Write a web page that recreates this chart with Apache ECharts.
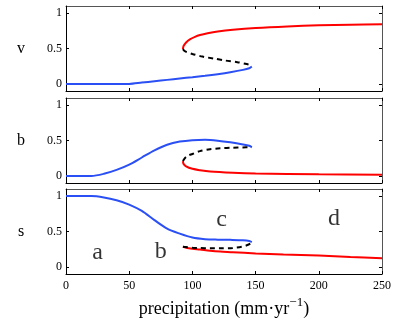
<!DOCTYPE html>
<html>
<head>
<meta charset="utf-8">
<script src="https://cdn.jsdelivr.net/npm/echarts@6/dist/echarts.min.js"></script>
<style>
html,body{margin:0;padding:0;background:#fff;}
#chart{width:415px;height:327px;}
</style>
</head>
<body>
<div id="chart"></div>
<script>
// ---------- data (precipitation P in mm/yr) ----------
const xTicks = [0, 50, 100, 150, 200, 250];
const yTicks = [0, 0.5, 1];
const panelNames = ['v', 'b', 's'];

// v panel
const vLowP   = [0, 10, 20, 30, 40, 50, 60, 70, 80, 90, 100, 110, 120, 130, 140, 145, 147];
const vLow    = [0, 0, 0, 0, 0, 0, 0.019, 0.038, 0.057, 0.076, 0.095, 0.115, 0.138, 0.165, 0.198, 0.222, 0.245];
const vUnsP   = [92.5, 94, 100, 108, 117, 126, 135.5, 143, 146, 147];
const vUns    = [0.49, 0.462, 0.423, 0.386, 0.358, 0.33, 0.307, 0.28, 0.262, 0.245];
const vHighP  = [92.5, 93, 95, 98, 102, 106, 112, 120, 132, 150, 175, 200, 225, 250];
const vHigh   = [0.49, 0.535, 0.585, 0.63, 0.665, 0.69, 0.715, 0.74, 0.765, 0.79, 0.812, 0.827, 0.836, 0.843];

// b panel
const bLowP   = [0, 10, 20, 30, 40, 50, 60, 70, 80, 90, 100, 110, 120, 130, 140, 145, 147];
const bLow    = [0, 0, 0, 0.03, 0.085, 0.16, 0.26, 0.36, 0.44, 0.485, 0.505, 0.51, 0.498, 0.475, 0.445, 0.425, 0.405];
const bUnsP   = [92.5, 95, 100, 106, 114, 122, 132, 140, 145, 147];
const bUns    = [0.21, 0.27, 0.31, 0.35, 0.377, 0.39, 0.398, 0.402, 0.404, 0.405];
const bHighP  = [92.5, 93, 95, 100, 106, 114, 132, 150, 200, 250];
const bHigh   = [0.21, 0.17, 0.135, 0.1, 0.08, 0.062, 0.045, 0.035, 0.024, 0.018];

// s panel
const sLowP   = [0, 10, 20, 30, 40, 50, 60, 70, 80, 90, 100, 110, 120, 130, 140, 145, 147];
const sLow    = [1, 1, 1, 0.98, 0.94, 0.88, 0.79, 0.66, 0.54, 0.47, 0.415, 0.392, 0.385, 0.382, 0.376, 0.365, 0.35];
const sUnsP   = [92.5, 95, 100, 106, 114, 122, 132, 139, 143, 146, 147];
const sUns    = [0.285, 0.28, 0.272, 0.266, 0.262, 0.262, 0.268, 0.285, 0.305, 0.33, 0.35];
const sHighP  = [92.5, 95, 100, 106, 114, 122, 132, 150, 172, 200, 225, 250];
const sHigh   = [0.285, 0.272, 0.258, 0.246, 0.228, 0.216, 0.208, 0.19, 0.175, 0.16, 0.14, 0.122];

// region labels (bottom panel)
const regionLabels = ['a', 'b', 'c', 'd'];
const regionP = [25, 75, 123, 212];
const regionS = [0.2, 0.21, 0.66, 0.68];

// ---------- chart ----------
const FONT = '"Liberation Serif", "Times New Roman", serif';
const BLUE = '#2a4ff5', RED = '#ff0000', BLACK = '#000000';
const pair = (xs, ys) => xs.map((x, i) => [x, ys[i]]);

const gridTops = [6, 98, 189];
const grids = gridTops.map(t => ({ left: 66, right: 33, top: t, height: 85 }));

const xAxes = [], yAxes = [];
grids.forEach((g, i) => {
  xAxes.push({
    type: 'value', gridIndex: i, position: 'bottom', min: 0, max: 250, interval: 50,
    axisLine: { show: true, onZero: false, lineStyle: { color: '#000', width: 1 } },
    axisTick: { show: true, inside: true, length: 3, lineStyle: { color: '#000' } },
    axisLabel: { show: i === 2, margin: 6, color: '#000', fontFamily: FONT, fontSize: 12 },
    splitLine: { show: false },
    name: i === 2 ? '{t|precipitation (mm·yr}{s|−1}{t|)}' : '',
    nameLocation: 'middle', nameGap: 22,
    nameTextStyle: {
      rich: {
        t: { fontFamily: FONT, fontSize: 18, color: '#000', verticalAlign: 'bottom', lineHeight: 22 },
        s: { fontFamily: FONT, fontSize: 13, color: '#000', verticalAlign: 'top', lineHeight: 22, padding: [0, 0, 10, 0] }
      }
    }
  });
  xAxes.push({
    type: 'value', gridIndex: i, position: 'top', min: 0, max: 250, interval: 50,
    axisLine: { show: true, onZero: false, lineStyle: { color: '#555', width: 1 } },
    axisTick: { show: true, inside: true, length: 3, lineStyle: { color: '#000' } },
    axisLabel: { show: false }, splitLine: { show: false }
  });
  yAxes.push({
    type: 'value', gridIndex: i, position: 'left', min: -0.1, max: 1.1,
    axisLine: { show: true, onZero: false, lineStyle: { color: '#000', width: 1 } },
    axisTick: { show: true, inside: true, length: 3, customValues: yTicks, lineStyle: { color: '#000' } },
    axisLabel: { show: true, customValues: yTicks, margin: 4, color: '#000', fontFamily: FONT, fontSize: 12 },
    splitLine: { show: false },
    name: panelNames[i], nameLocation: 'middle', nameRotate: 0, nameGap: 45,
    nameTextStyle: { fontFamily: FONT, fontSize: 16, color: '#000', align: 'center', verticalAlign: 'middle' }
  });
  yAxes.push({
    type: 'value', gridIndex: i, position: 'right', min: -0.1, max: 1.1,
    axisLine: { show: true, onZero: false, lineStyle: { color: '#555', width: 1 } },
    axisTick: { show: true, inside: true, length: 3, customValues: yTicks, lineStyle: { color: '#000' } },
    axisLabel: { show: false }, splitLine: { show: false }
  });
});

function line(gi, data, color, dashed) {
  return {
    type: 'line', xAxisIndex: gi * 2, yAxisIndex: gi * 2, data: data,
    showSymbol: false, symbol: 'none', smooth: 0.3, animation: false,
    lineStyle: { color: color, width: 2, type: dashed ? [5, 4] : 'solid' },
    z: dashed ? 3 : 2
  };
}

const series = [
  line(0, pair(vLowP, vLow), BLUE), line(0, pair(vHighP, vHigh), RED), line(0, pair(vUnsP, vUns), BLACK, true),
  line(1, pair(bLowP, bLow), BLUE), line(1, pair(bHighP, bHigh), RED), line(1, pair(bUnsP, bUns), BLACK, true),
  line(2, pair(sLowP, sLow), BLUE), line(2, pair(sHighP, sHigh), RED), line(2, pair(sUnsP, sUns), BLACK, true),
  {
    type: 'scatter', xAxisIndex: 4, yAxisIndex: 4, symbolSize: 0, animation: false, silent: true,
    data: regionLabels.map((n, i) => ({ name: n, value: [regionP[i], regionS[i]] })),
    label: { show: true, position: 'inside', formatter: p => p.name, fontFamily: FONT, fontSize: 24, color: '#000' }
  }
];

const chart = echarts.init(document.getElementById('chart'), null, { renderer: 'canvas' });
chart.setOption({
  animation: false,
  backgroundColor: '#fff',
  grid: grids,
  xAxis: xAxes,
  yAxis: yAxes,
  series: series
});
</script>
</body>
</html>
